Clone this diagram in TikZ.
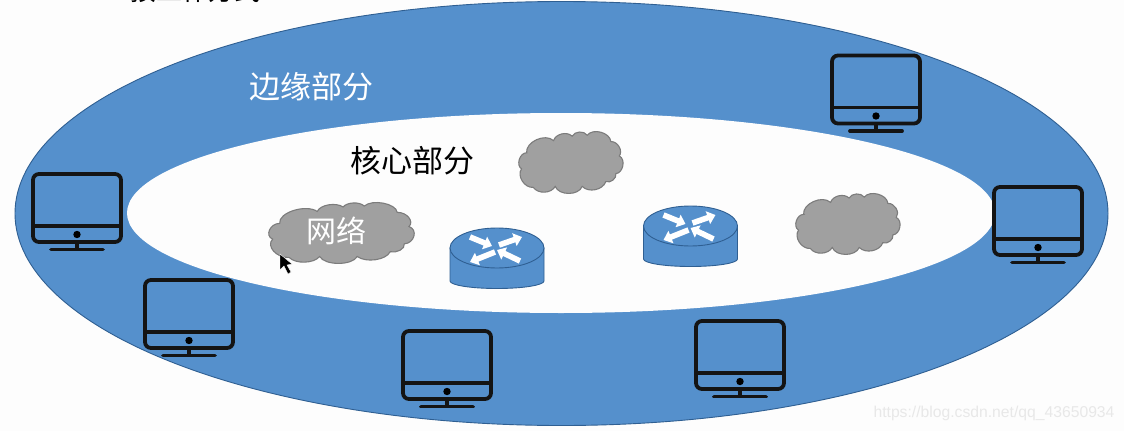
\documentclass[tikz,border=0pt]{standalone}
\usepackage{fontspec}
\setmainfont{Liberation Sans}
\newfontfamily\cjk{Noto Sans CJK SC}[Scale=1]
\usetikzlibrary{arrows.meta,shapes.geometric}
\definecolor{ringblue}{HTML}{5590CC}
\definecolor{edgeblue}{HTML}{2F5F92}
\definecolor{bg}{HTML}{FDFDFD}
\definecolor{cloudgray}{HTML}{A0A0A0}
\definecolor{cloudedge}{HTML}{7C7C7C}
\tikzset{
  x=1pt,y=-1pt,
  monitorline/.style={draw=black!92,line width=3.8pt,line cap=round},
  cloudshape/.style={fill=cloudgray,draw=cloudedge,line width=1.1pt},
  flow/.style={white,line width=5.6pt,-{Triangle[width=13pt,length=8pt]}},
  cyl/.style={fill=ringblue,draw=edgeblue,line width=.9pt},
  label/.style={font=\cjk,inner sep=0pt,anchor=center},
  pics/monitor/.style={code={
    \draw[monitorline,rounded corners=6pt] (0,0) rectangle (88,68);
    \draw[monitorline] (0,52) -- (88,52);
    \fill[black] (44,60.5) circle (3.7);
    \draw[monitorline,line cap=butt] (44,68) -- (44,75.5);
    \draw[monitorline] (18,75.5) -- (70,75.5);
  }},
  pics/router/.style={code={
    \draw[cyl] (-47,0) -- (-47,33) arc[start angle=180,end angle=360,x radius=47,y radius=-7.5] -- (47,0) -- cycle;
    \draw[cyl] (0,0) ellipse[x radius=47,y radius=20];
    \draw[flow] (-27,-11) -- (-5,-2);
    \draw[flow] (2,-3) -- (25,-11);
    \draw[flow] (-2,4) -- (-27,14);
    \draw[flow] (23,13) -- (0,2);
  }},
  pics/netcloud/.style={code={
    \draw[cloudshape] (27,60) to[bend left=70] (107,22) to[bend left=60] (162,8)
      to[bend left=60] (207,5) to[bend left=70] (277,25) to[bend left=65] (302,70)
      to[bend left=75] (292,125) to[bend left=60] (262,150) to[bend left=60] (192,165)
      to[bend left=70] (112,165) to[bend left=60] (47,168) to[bend left=65] (12,110)
      to[bend left=75] cycle;
  }},
}
\begin{document}
\begin{tikzpicture}
\useasboundingbox (0,0) rectangle (1124,431);
\fill[bg] (0,0) rectangle (1124,431);
\begin{scope}
  \clip (0,0) rectangle (1124,431);
  \node[label,font=\cjk\fontsize{26}{26}\selectfont] (heading) at (195,-9) {按工作方式};
\end{scope}
\node[fill=ringblue,draw=edgeblue,line width=.9pt,shape=ellipse,inner sep=0pt,minimum width=1093pt,minimum height=424pt] (edge) at (561.5,213.5) {};
\node[fill=bg,draw=none,shape=ellipse,inner sep=0pt,minimum width=868pt,minimum height=200pt] (core) at (561,213) {};
\node[label,white,font=\cjk\fontsize{31}{31}\selectfont] (edgelabel) at (311,87) {边缘部分};
\node[label,black,font=\cjk\fontsize{31}{31}\selectfont] (corelabel) at (412,161) {核心部分};
\pic at (832,55.5) {monitor};
\pic at (33,174) {monitor};
\pic at (994,187) {monitor};
\pic at (145,280) {monitor};
\pic at (403,331) {monitor};
\pic at (696,321) {monitor};
\pic[xscale=.47,yscale=.315] at (267,204.5) {netcloud};
\pic[xscale=.337,yscale=.32] at (517.5,133.6) {netcloud};
\pic[xscale=.337,yscale=.315] at (794.5,195.5) {netcloud};
\node[label,white,font=\cjk\fontsize{30}{30}\selectfont] (netlabel) at (336,231) {网络};
\pic at (497,248) {router};
\pic at (690.5,226) {router};
\fill[black,draw=white,line width=.4pt] (280,254) -- (280,270) -- (284,266) -- (288,274) -- (291,272) -- (287,265) -- (292,264) -- cycle;
\node[label,text=black!9,font=\fontsize{15.7}{16}\selectfont] (mark) at (994,413) {https://blog.csdn.net/qq\_43650934};
\end{tikzpicture}
\end{document}
